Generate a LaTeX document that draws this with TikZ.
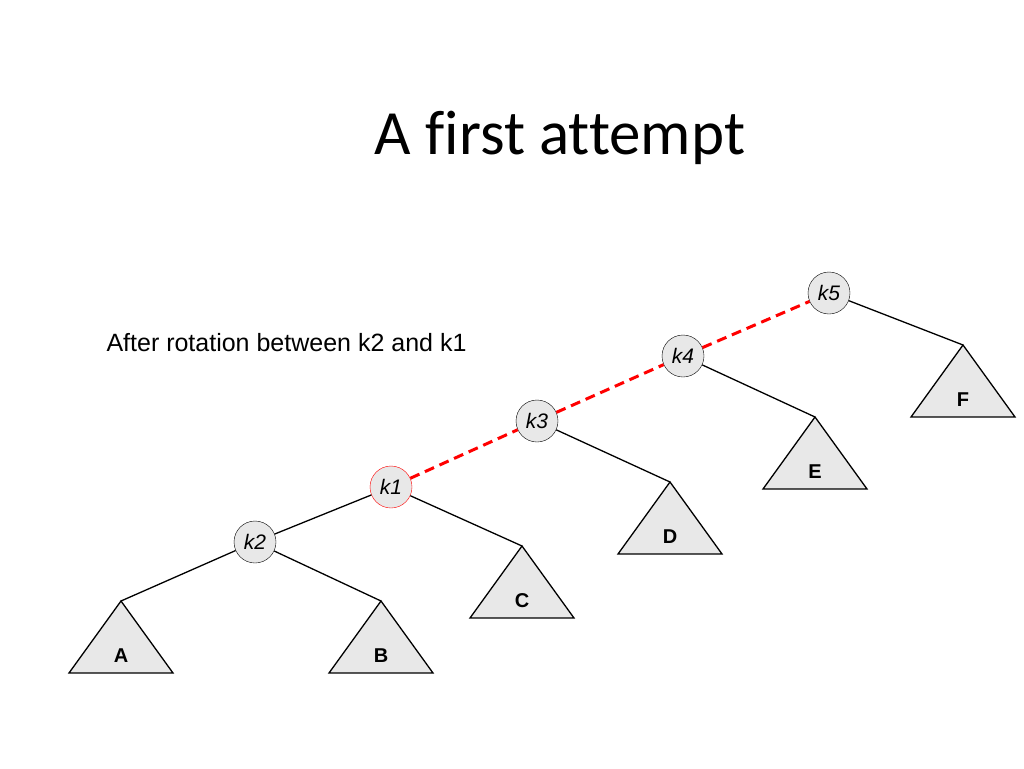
\documentclass[tikz,border=0pt]{standalone}
\usepackage{fontspec}
\usetikzlibrary{calc}
\setmainfont{Liberation Sans}
\newfontfamily\titlefont[Ligatures={NoCommon}]{Carlito}
\begin{document}
\begin{tikzpicture}[x=1pt,y=-1pt,
  key/.style={circle,draw=black,fill=gray!18,minimum size=42pt,inner sep=0pt,font=\fontsize{21}{24}\selectfont\itshape},
  redkey/.style={key,draw=red},
  edge/.style={draw=black,line width=1.3pt},
  reddash/.style={draw=red,line width=3pt,dash pattern=on 10pt off 6pt},
  tri/.style={draw=black,fill=gray!18,line width=1.3pt,line join=miter},
  tlabel/.style={font=\fontsize{20}{22}\selectfont\bfseries}]
\useasboundingbox (0,0) rectangle (1024,768);
\node[font=\titlefont\fontsize{63}{70}\selectfont] (title) at (560,138) {A first attempt};
\node[anchor=west,font=\fontsize{25}{28}\selectfont] (cap) at (103,343) {After rotation between k2 and k1};
% subtree apexes
\coordinate (a) at (121,601);
\coordinate (b) at (381,601);
\coordinate (c) at (522,546);
\coordinate (d) at (670,482);
\coordinate (e) at (815,417);
\coordinate (f) at (963,345);
\foreach \p/\l in {a/A,b/B,c/C,d/D,e/E,f/F}{
  \draw[tri] (\p) -- ++(52,72) -- ++(-104,0) -- cycle;
  \node[tlabel] (lab\l) at ($(\p)+(0,55)$) {\l};
}
% keys
\node[key] (k5) at (829,293) {k5};
\node[key] (k4) at (683,356) {k4};
\node[key] (k3) at (537,421) {k3};
\node[redkey] (k1) at (391,487) {k1};
\node[key] (k2) at (255,542) {k2};
% edges
\draw[edge] (k5) -- (f);
\draw[edge] (k4) -- (e);
\draw[edge] (k3) -- (d);
\draw[edge] (k1) -- (c);
\draw[edge] (k1) -- (k2);
\draw[edge] (k2) -- (a);
\draw[edge] (k2) -- (b);
\draw[reddash] (k1) -- (k3);
\draw[reddash] (k3) -- (k4);
\draw[reddash] (k4) -- (k5);
\end{tikzpicture}
\end{document}
